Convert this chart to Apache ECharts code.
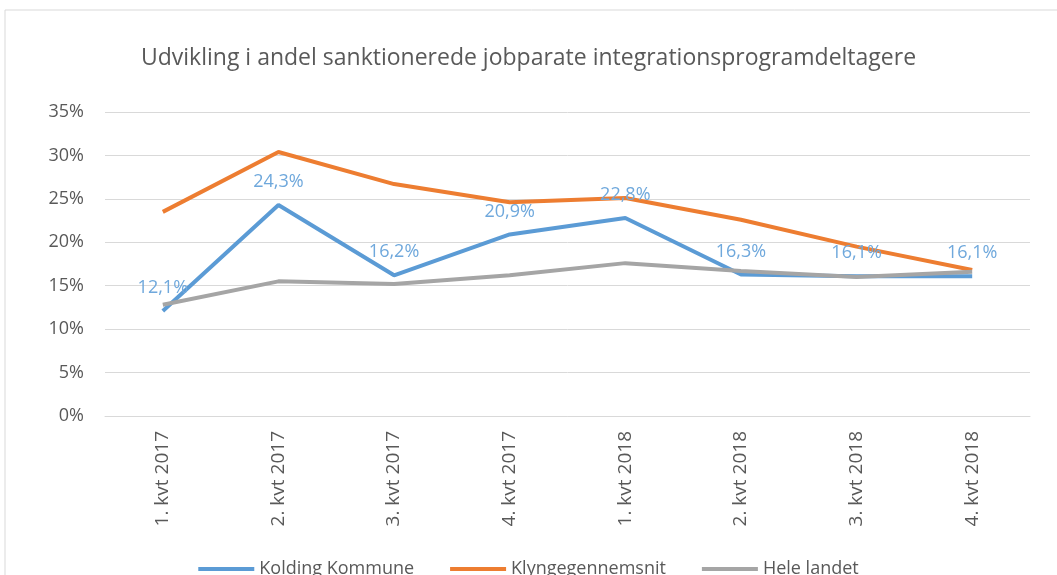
<!DOCTYPE html>
<html>
	<head>
		<meta charset="utf-8">
		<title></title>
		<style type="text/css">
			body{
				margin: 0;
				background: #fff;
			}
			#main{
				width: 1057px;
				height: 575px;
			}
		</style>
	</head>
	<body>
		<div id="main"></div>
	</body>
<script src="https://cdn.jsdelivr.net/npm/echarts@6/dist/echarts.min.js" type="text/javascript" charset="utf-8"></script>
<script type="text/javascript">
	// kvartaler
	var categories=["1. kvt 2017","2. kvt 2017","3. kvt 2017","4. kvt 2017","1. kvt 2018","2. kvt 2018","3. kvt 2018","4. kvt 2018"]
	// andel i procent
	var kolding=[12.1,24.3,16.2,20.9,22.8,16.3,16.1,16.1]
	var klynge=[23.5,30.4,26.7,24.6,25.1,22.6,19.5,16.8]
	var heleLandet=[12.8,15.5,15.2,16.2,17.6,16.7,16.0,16.6]

	var font="'Open Sans', sans-serif"
	function pct(v){
		return v.toFixed(1).replace('.',',')+'%'
	}

	var chartDom = document.getElementById('main');
	var myChart = echarts.init(chartDom);
	var option;

	option = {
	  animation: false,
	  graphic: [
	    {
	      type: 'rect',
	      shape: {x: 5, y: 10, width: 1100, height: 600},
	      style: {fill: 'none', stroke: '#d9d9d9', lineWidth: 1}
	    }
	  ],
	  title: {
	    text: 'Udvikling i andel sanktionerede jobparate integrationsprogramdeltagere',
	    left: 'center',
	    top: 42,
	    textStyle: {
	      color: '#595959',
	      fontFamily: font,
	      fontSize: 23,
	      fontWeight: 'normal'
	    }
	  },
	  legend: {
	    bottom: -8,
	    left: 'center',
	    itemGap: 36,
	    itemWidth: 56,
	    itemHeight: 4,
	    icon: 'rect',
	    textStyle: {color: '#595959', fontFamily: font, fontSize: 18},
	    data: ['Kolding Kommune','Klyngegennemsnit','Hele landet']
	  },
	  grid: {
	    left: 105,
	    right: 27,
	    top: 112,
	    bottom: 159
	  },
	  xAxis: {
	    type: 'category',
	    data: categories,
	    boundaryGap: true,
	    axisTick: {show: false},
	    axisLine: {lineStyle: {color: '#d9d9d9'}},
	    axisLabel: {
	      rotate: 90,
	      margin: 15,
	      color: '#595959',
	      fontFamily: font,
	      fontSize: 19
	    }
	  },
	  yAxis: {
	    type: 'value',
	    min: 0,
	    max: 35,
	    interval: 5,
	    axisLabel: {
	      formatter: '{value}%',
	      color: '#595959',
	      fontFamily: font,
	      fontSize: 18,
	      margin: 21
	    },
	    splitLine: {lineStyle: {color: '#d9d9d9'}}
	  },
	  series: [
	    {
	      name: 'Kolding Kommune',
	      type: 'line',
	      data: kolding,
	      symbol: 'circle',
	      symbolSize: 0,
	      color: '#5b9bd5',
	      lineStyle: {width: 4},
	      label: {
	        show: true,
	        position: 'top',
	        distance: 14,
	        color: '#6fa8dc',
	        fontFamily: font,
	        fontSize: 18,
	        formatter: function(p){ return pct(p.value) }
	      }
	    },
	    {
	      name: 'Klyngegennemsnit',
	      type: 'line',
	      data: klynge,
	      symbol: 'none',
	      color: '#ed7d31',
	      lineStyle: {width: 4}
	    },
	    {
	      name: 'Hele landet',
	      type: 'line',
	      data: heleLandet,
	      symbol: 'none',
	      color: '#a5a5a5',
	      lineStyle: {width: 4}
	    }
	  ]
	};

	option && myChart.setOption(option);
</script>
</html>
